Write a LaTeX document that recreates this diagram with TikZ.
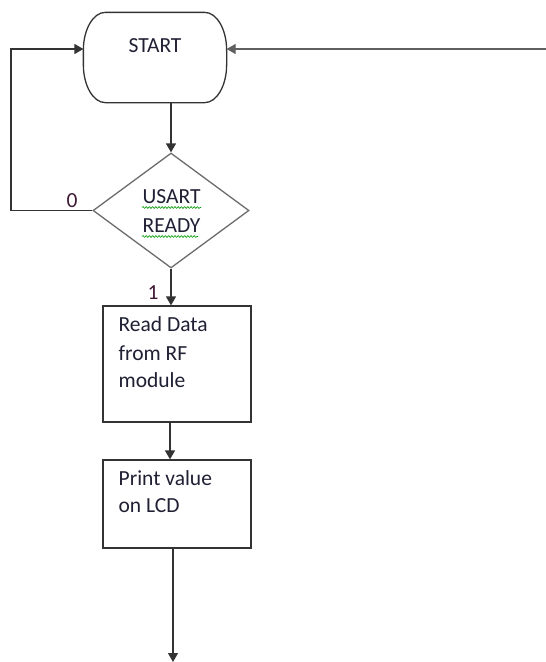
\documentclass[tikz,border=0pt]{standalone}
\usepackage{fontspec}
\setmainfont{Carlito}
\usetikzlibrary{shapes.geometric,arrows.meta,decorations.pathmorphing}
\definecolor{ln}{HTML}{333333}
\definecolor{txt}{HTML}{202035}
\begin{document}
\begin{tikzpicture}[x=1pt,y=-1pt,
  line width=1.3pt,
  conn/.style={draw=ln,-{Triangle[length=9pt,width=10pt]}},
  lbl/.style={text=txt,inner sep=0,font=\fontsize{21.5}{28}\selectfont},
  boxst/.style={draw=ln,inner sep=0},
  squig/.style={draw=green!60!black,line width=0.6pt,decorate,decoration={snake,amplitude=0.9pt,segment length=3.2pt}}]
\useasboundingbox[fill=white] (0,0) rectangle (546,662);

% START terminal
\node[inner sep=0,minimum width=142pt,minimum height=89pt] (start) at (155,57.5) {};
\draw[ln] ([xshift=22pt]start.north west) -- ([xshift=-22pt]start.north east)
  arc[start angle=90,end angle=0,x radius=22pt,y radius=38pt]
  -- ([yshift=38pt]start.south east)
  arc[start angle=0,end angle=-90,x radius=22pt,y radius=38pt]
  -- ([xshift=22pt]start.south west)
  arc[start angle=-90,end angle=-180,x radius=22pt,y radius=38pt]
  -- ([yshift=-38pt]start.north west)
  arc[start angle=180,end angle=90,x radius=22pt,y radius=38pt] -- cycle;
\node[lbl,anchor=base] (starttxt) at (155,52) {START};

% decision
\node[diamond,draw=gray!85!black,inner sep=0,minimum width=156pt,minimum height=115pt,aspect=1.356] (dec) at (171,210.5) {};
\node[lbl,anchor=base west] (d1) at (142,203) {USART};
\node[lbl,anchor=base west] (d2) at (142,232) {READY};
\draw[squig] (142,207.5) -- (201,207.5);
\draw[squig] (142,236.5) -- (198,236.5);

% process boxes
\node[boxst,minimum width=148pt,minimum height=116pt] (b1) at (177,364) {};
\node[lbl,anchor=base west] (b1a) at (118,331) {Read Data};
\node[lbl,anchor=base west] (b1b) at (118,360) {from RF};
\node[lbl,anchor=base west] (b1c) at (118,387) {module};

\node[boxst,minimum width=148pt,minimum height=88pt] (b2) at (177,504) {};
\node[lbl,anchor=base west] (b2a) at (118,485) {Print value};
\node[lbl,anchor=base west] (b2b) at (118,512) {on LCD};

% branch labels
\node[lbl,text=txt!80!purple] (zero) at (72,201) {0};
\node[lbl,text=txt!80!purple] (one) at (153,293) {1};

% connectors
\coordinate (lp) at (11,49);
\coordinate (rin) at (546,49);
\coordinate (endpt) at (173,662);
\draw[conn] (start.south -| dec.north) -- (dec.north);
\draw[conn] (dec.south) -- (dec.south |- b1.north);
\draw[conn] (b1.south -| 170,0) -- (b2.north -| 170,0);
\draw[conn] (b2.south -| endpt) -- (endpt);
\draw[conn] (dec.west) -| (lp) -- (lp -| start.west);
\draw[conn,draw=gray!75!black] (rin) -- (rin -| start.east);
\end{tikzpicture}
\end{document}
